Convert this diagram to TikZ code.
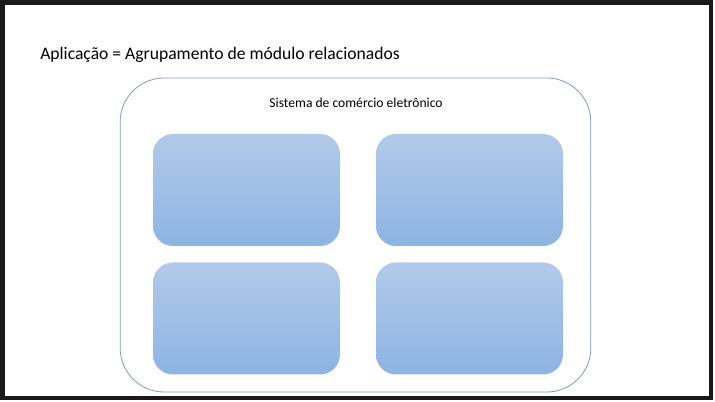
\documentclass[tikz,border=0pt]{standalone}
\usepackage{fontspec}
\setmainfont{Carlito}
\usepackage{xcolor}
\usetikzlibrary{positioning}

\definecolor{edgeblue}{RGB}{125,155,195}
\definecolor{modtop}{RGB}{178,202,233}
\definecolor{modbot}{RGB}{141,180,227}

\begin{document}
\begin{tikzpicture}[
    x=0.75pt, y=-0.75pt,
    sistema/.style={draw=edgeblue, line width=0.6pt, rounded corners=33pt, minimum width=353pt, minimum height=235.5pt, inner sep=0},
    modulo/.style={rounded corners=15pt, minimum width=140.25pt, minimum height=84pt, inner sep=0, top color=modtop, bottom color=modbot, draw=none},
    lbl/.style={font=\fontsize{10.2}{12}\selectfont, align=center},
]
    \useasboundingbox (0,0) rectangle (715,402);

    % Frame
    \draw[line width=3.2pt, black!90] (2.5,2.5) rectangle (711,398);

    % Title
    \node[font=\fontsize{13.2}{15}\selectfont, anchor=west, inner sep=0] (titulo) at (40,55) {Aplicação = Agrupamento de módulo relacionados};

    % System
    \node[sistema] (sist) at (355.5,235) {};
    \node[lbl] (sistlbl) at (356,103) {Sistema de comércio eletrônico};

    % Modules
    \node[modulo] (modA) at (246.5,190) {};
    \node[modulo] (modB) at (469.5,190) {};
    \node[modulo] (modC) at (246.5,318.5) {};
    \node[modulo] (modD) at (469.5,318.5) {};
\end{tikzpicture}
\end{document}
